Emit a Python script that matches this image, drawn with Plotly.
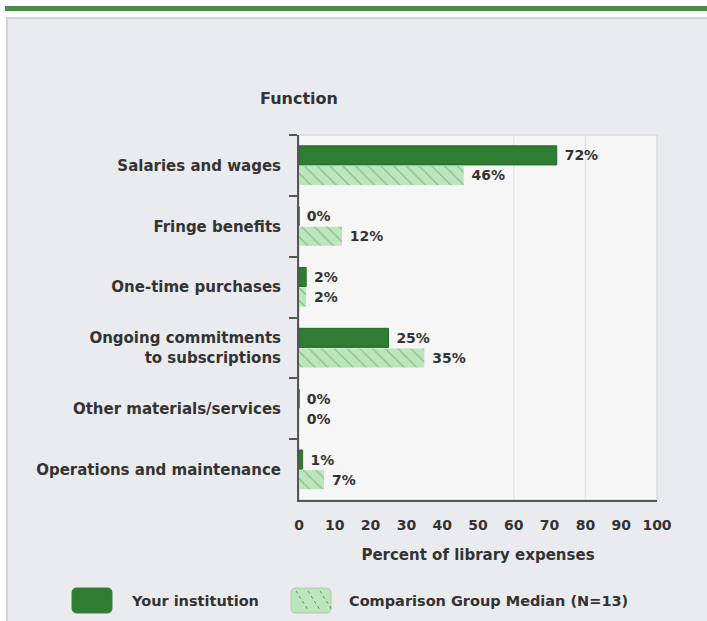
import plotly.graph_objects as go

# ---- data ----
categories = ["Salaries and wages", "Fringe benefits", "One-time purchases",
              "Ongoing commitments<br>to subscriptions", "Other materials/services",
              "Operations and maintenance"]
your_institution = [72, 0, 2, 25, 0, 1]
comparison_median = [46, 12, 2, 35, 0, 7]
series_names = ["Your institution", "Comparison Group Median (N=13)"]
x_ticks = [0, 10, 20, 30, 40, 50, 60, 70, 80, 90, 100]

# ---- geometry helpers (layout only) ----
W, H = 707, 621
L, R, T, B = 299, 50, 135, 121
PW, PH = W - L - R, H - T - B


def px(x):
    return (x - L) / PW


def py(y):
    return (H - B - y) / PH


def rrect(x0, y0, x1, y1, r=5):
    a, b, c, d = px(x0), py(y0), px(x1), py(y1)
    rx, ry = r / PW, r / PH
    return (f"M{a+rx},{b} L{c-rx},{b} Q{c},{b} {c},{b-ry} L{c},{d+ry} Q{c},{d} {c-rx},{d} "
            f"L{a+rx},{d} Q{a},{d} {a},{d+ry} L{a},{b-ry} Q{a},{b} {a+rx},{b} Z")


FONT = "DejaVu Sans, Verdana, sans-serif"
TXT = "#333333"
DARK = "#2e7d32"
LIGHT = "#bde6bd"
HATCH = "#4f984f"
PAD = "\u00a0"

fig = go.Figure()
fig.add_trace(go.Bar(
    y=categories, x=your_institution, orientation="h", name=series_names[0],
    marker=dict(color=DARK, line=dict(color="#256b28", width=1)),
    text=[f"{PAD}{v}%" for v in your_institution], textposition="outside",
    textfont=dict(family=FONT, size=14, color=TXT, weight="bold"),
    cliponaxis=False, showlegend=False,
))
fig.add_trace(go.Bar(
    y=categories, x=comparison_median, orientation="h", name=series_names[1],
    marker=dict(color=LIGHT, line=dict(width=0),
                pattern=dict(shape="\\", fgcolor=HATCH, bgcolor=LIGHT, size=9, solidity=0.14)),
    text=[f"{PAD}{v}%" for v in comparison_median], textposition="outside",
    textfont=dict(family=FONT, size=14, color=TXT, weight="bold"),
    cliponaxis=False, showlegend=False,
))

shapes = [
    # top green band
    dict(type="rect", xref="paper", yref="paper", x0=px(5), x1=px(712), y0=py(11), y1=py(6),
         fillcolor="#4e8a4a", line=dict(width=0), layer="below"),
    # panel
    dict(type="rect", xref="paper", yref="paper", x0=px(7), x1=px(720), y0=py(640), y1=py(18),
         fillcolor="#eaebef", line=dict(color="#d2d2d4", width=2), layer="below"),
    # plot background
    dict(type="rect", xref="paper", yref="paper", x0=0, x1=1, y0=0, y1=1,
         fillcolor="#f6f6f6", line=dict(color="#d0d0d0", width=1), layer="below"),
    # legend swatches
    dict(type="path", xref="paper", yref="paper", path=rrect(72, 588, 112, 613),
         fillcolor=DARK, line=dict(color="#3d7f3d", width=1), layer="above"),
    dict(type="path", xref="paper", yref="paper", path=rrect(291, 588, 331, 613),
         fillcolor=LIGHT, line=dict(color="#b0c8b0", width=1), layer="above"),
]
# faint grid lines seen in the reference
for gx in [60, 80]:
    shapes.append(dict(type="line", xref="x", yref="paper", x0=gx, x1=gx, y0=0, y1=1,
                       line=dict(color="#e0e0e0", width=1), layer="below"))
# hatch in light legend swatch
for k in range(3):
    x0 = 296 + k * 12
    shapes.append(dict(type="line", xref="paper", yref="paper", x0=px(x0), x1=px(x0 + 12),
                       y0=py(591), y1=py(610), line=dict(color=HATCH, width=1, dash="dot"),
                       layer="above"))

annotations = [
    dict(text="<b>Function</b>", xref="paper", yref="paper", x=px(299), y=py(98),
         xanchor="center", yanchor="middle", showarrow=False,
         font=dict(family=FONT, size=16, color=TXT)),
    dict(text="<b>" + series_names[0] + "</b>", xref="paper", yref="paper", x=px(129), y=py(601),
         xanchor="left", yanchor="middle", showarrow=False,
         font=dict(family=FONT, size=14.5, color=TXT)),
    dict(text="<b>" + series_names[1] + "</b>", xref="paper", yref="paper", x=px(347), y=py(601),
         xanchor="left", yanchor="middle", showarrow=False,
         font=dict(family=FONT, size=14.5, color=TXT)),
]

fig.update_layout(
    width=W, height=H,
    margin=dict(l=L, r=R, t=T, b=B, pad=0),
    paper_bgcolor="white", plot_bgcolor="rgba(0,0,0,0)",
    barmode="group", bargap=0.34, bargroupgap=0.05,
    shapes=shapes, annotations=annotations,
    font=dict(family=FONT, color=TXT),
    xaxis=dict(range=[0, 100], tickvals=x_ticks, showgrid=False, zeroline=False,
               showline=True, linecolor="#555555", linewidth=2, ticks="",
               ticklabelstandoff=11,
               tickfont=dict(family=FONT, size=14, color=TXT, weight="bold"),
               title=dict(text="<b>Percent of library expenses</b>", standoff=18,
                          font=dict(family=FONT, size=15, color=TXT))),
    yaxis=dict(autorange="reversed", showgrid=False, zeroline=False,
               showline=True, linecolor="#555555", linewidth=2,
               ticks="outside", tickson="boundaries", ticklen=8, tickcolor="#555555",
               tickwidth=1.5, ticklabelstandoff=13,
               tickfont=dict(family=FONT, size=15, color=TXT, weight="bold")),
)

fig.write_html("out.html", config={"displayModeBar": False},
               post_script="document.body.style.margin='0';document.body.style.overflow='hidden';")
